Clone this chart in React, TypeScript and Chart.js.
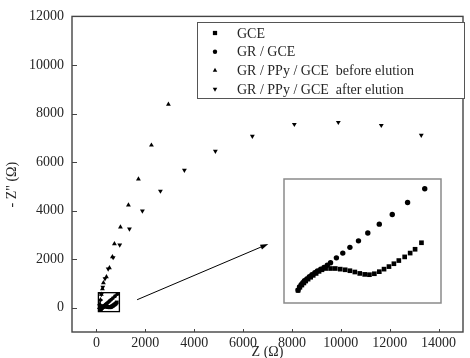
import React, { useEffect, useRef } from "react";
import { Chart, registerables } from "chart.js";
import { drawPoint } from "chart.js/helpers";

Chart.register(...registerables);

// ---------- data (Ω) ----------
const xTickValues = [0, 2000, 4000, 6000, 8000, 10000, 12000, 14000];
const yTickValues = [0, 2000, 4000, 6000, 8000, 10000, 12000];

const seriesLabels = [
  "GCE",
  "GR / GCE",
  "GR / PPy / GCE  before elution",
  "GR / PPy / GCE  after elution",
];

const gceX = [157, 167, 178, 189, 199, 212, 226, 240, 256, 272, 288, 308, 335, 361, 388, 415, 441, 468, 495, 522, 548, 575, 602, 628, 655, 682, 709, 741, 771, 798, 833];
const gceY = [-81, -61, -47, -34, -22, -10, 2, 14, 26, 39, 49, 57, 57, 57, 53, 49, 43, 35, 26, 20, 18, 24, 37, 53, 69, 87, 107, 130, 154, 178, 219];

const grX = [157, 165, 174, 183, 192, 205, 219, 233, 249, 263, 281, 299, 317, 335, 367, 402, 441, 488, 539, 602, 673, 757, 851];
const grY = [-79, -59, -45, -32, -20, -8, 6, 18, 30, 41, 53, 63, 77, 93, 124, 154, 190, 231, 280, 336, 397, 472, 559];

const beforeX = [120, 140, 165, 200, 245, 286, 409, 532, 654, 736, 982, 1309, 1718, 2250, 2945];
const beforeY = [0, 150, 330, 550, 780, 1027, 1273, 1643, 2094, 2628, 3326, 4230, 5298, 6694, 8378];

const afterX = [130, 160, 200, 260, 350, 480, 683, 953, 1350, 1881, 2618, 3599, 4867, 6380, 8098, 9898, 11656, 13292];
const afterY = [100, 300, 550, 850, 1200, 1600, 2066, 2587, 3244, 3984, 4805, 5667, 6448, 7064, 7556, 7638, 7515, 7105];

// zoom box (data units) shown enlarged in the inset, and arrow (data units)
const zoomBoxX = [80, 940];
const zoomBoxY = [-160, 620];
const arrowX = [1664, 7034];
const arrowY = [329, 2628];

const pts = (xs: number[], ys: number[]) => xs.map((x, i) => ({ x, y: ys[i] }));

const FONT = "'Liberation Serif', 'Times New Roman', serif";
const TEXT = "#262626";

const framePlugin = {
  id: "frame",
  afterDatasetsDraw(chart: any) {
    const { ctx, chartArea: a, scales } = chart;
    const xs = scales.x, ys = scales.y;
    ctx.save();
    // zoom box
    ctx.strokeStyle = "#000";
    ctx.lineWidth = 1.3;
    const bx0 = xs.getPixelForValue(zoomBoxX[0]);
    const bx1 = xs.getPixelForValue(zoomBoxX[1]);
    const by0 = ys.getPixelForValue(zoomBoxY[1]);
    const by1 = ys.getPixelForValue(zoomBoxY[0]);
    ctx.strokeRect(bx0, by0, bx1 - bx0, by1 - by0);
    // arrow
    const ax0 = xs.getPixelForValue(arrowX[0]);
    const ay0 = ys.getPixelForValue(arrowY[0]);
    const ax1 = xs.getPixelForValue(arrowX[1]);
    const ay1 = ys.getPixelForValue(arrowY[1]);
    const ang = Math.atan2(ay1 - ay0, ax1 - ax0);
    ctx.lineWidth = 1;
    ctx.beginPath();
    ctx.moveTo(ax0, ay0);
    ctx.lineTo(ax1 - 5 * Math.cos(ang), ay1 - 5 * Math.sin(ang));
    ctx.stroke();
    ctx.fillStyle = "#000";
    ctx.beginPath();
    ctx.moveTo(ax1, ay1);
    ctx.lineTo(ax1 - 8 * Math.cos(ang) + 2.6 * Math.sin(ang), ay1 - 8 * Math.sin(ang) - 2.6 * Math.cos(ang));
    ctx.lineTo(ax1 - 8 * Math.cos(ang) - 2.6 * Math.sin(ang), ay1 - 8 * Math.sin(ang) + 2.6 * Math.cos(ang));
    ctx.closePath();
    ctx.fill();
    // frame
    ctx.strokeStyle = "#444";
    ctx.lineWidth = 1.4;
    ctx.strokeRect(a.left, a.top, a.right - a.left, a.bottom - a.top);
    // inward ticks
    ctx.lineWidth = 1;
    ctx.strokeStyle = "#444";
    ctx.beginPath();
    ys.ticks.forEach((t: any) => {
      const py = Math.round(ys.getPixelForValue(t.value)) + 0.5;
      ctx.moveTo(a.left, py);
      ctx.lineTo(a.left + 5, py);
    });
    xs.ticks.forEach((t: any) => {
      const px = Math.round(xs.getPixelForValue(t.value)) + 0.5;
      ctx.moveTo(px, a.bottom);
      ctx.lineTo(px, a.bottom - 3);
    });
    ctx.stroke();
    ctx.restore();
  },
  afterDraw(chart: any) {
    const { ctx } = chart;
    ctx.save();
    const lx = 197, ly = 22, lw = 267, lh = 76;
    ctx.fillStyle = "#fff";
    ctx.fillRect(lx, ly, lw, lh);
    ctx.strokeStyle = "#555";
    ctx.lineWidth = 1;
    ctx.strokeRect(lx + 0.5, ly + 0.5, lw, lh);
    ctx.font = `14px ${FONT}`;
    ctx.textBaseline = "middle";
    ctx.textAlign = "left";
    chart.data.datasets.forEach((ds: any, i: number) => {
      const y = ly + 11 + i * 18.7;
      ctx.fillStyle = "#000";
      ctx.strokeStyle = "#000";
      ctx.lineWidth = 0;
      drawPoint(ctx, { pointStyle: ds.pointStyle, rotation: ds.pointRotation || 0, radius: ds.legendRadius, borderWidth: 0 }, lx + 18, y);
      ctx.fillStyle = TEXT;
      ctx.fillText(ds.label, lx + 40, y + 1);
    });
    ctx.restore();
  },
};

const insetFramePlugin = {
  id: "insetFrame",
  afterDraw(chart: any) {
    const { ctx, chartArea: a } = chart;
    ctx.save();
    ctx.strokeStyle = "#8a8a8a";
    ctx.lineWidth = 1.5;
    ctx.strokeRect(a.left, a.top, a.right - a.left, a.bottom - a.top);
    ctx.restore();
  },
};

export default function App() {
  const mainRef = useRef<HTMLCanvasElement>(null);
  const insetRef = useRef<HTMLCanvasElement>(null);

  useEffect(() => {
    const base = { showLine: false, backgroundColor: "#000", borderColor: "#000", borderWidth: 0, clip: false as any };
    const main = new Chart(mainRef.current!, {
      type: "scatter",
      data: {
        datasets: [
          { ...base, label: seriesLabels[0], data: pts(gceX, gceY), pointStyle: "rect", pointRadius: 2.6, legendRadius: 3 } as any,
          { ...base, label: seriesLabels[1], data: pts(grX, grY), pointStyle: "circle", pointRadius: 1.9, legendRadius: 2.2 } as any,
          { ...base, label: seriesLabels[2], data: pts(beforeX, beforeY), pointStyle: "triangle", pointRadius: 2.8, legendRadius: 2.6 } as any,
          { ...base, label: seriesLabels[3], data: pts(afterX, afterY), pointStyle: "triangle", pointRotation: 180, pointRadius: 2.8, legendRadius: 2.6 } as any,
        ],
      },
      options: {
        animation: false,
        responsive: false,
        events: [],
        layout: { padding: { top: 16, right: 7, left: 0, bottom: 0 } },
        plugins: { legend: { display: false }, tooltip: { enabled: false } },
        scales: {
          x: {
            type: "linear",
            min: -1000,
            max: 15000,
            grid: { display: false, drawTicks: false },
            border: { display: false },
            afterBuildTicks: (s: any) => { s.ticks = xTickValues.map((v) => ({ value: v })); },
            afterFit: (s: any) => { s.height = 26; },
            ticks: { padding: 3, color: TEXT, font: { family: FONT, size: 14 }, maxRotation: 0, autoSkip: false, callback: (v: any) => String(v) },
            title: { display: true, text: "Z (Ω)", color: TEXT, font: { family: FONT, size: 14 }, padding: { top: 0, bottom: -3 } },
          },
          y: {
            type: "linear",
            min: -1000,
            max: 12000,
            grid: { display: false, drawTicks: false },
            border: { display: false },
            afterBuildTicks: (s: any) => { s.ticks = yTickValues.map((v) => ({ value: v })); },
            afterFit: (s: any) => { s.width = 72; },
            ticks: { padding: 8, color: TEXT, font: { family: FONT, size: 14 }, autoSkip: false, callback: (v: any) => String(v) },
            title: { display: true, text: '- Z" (Ω)      ', color: TEXT, font: { family: FONT, size: 14 }, padding: { top: 4, bottom: 0 } },
          },
        },
      } as any,
      plugins: [framePlugin],
    });

    const inset = new Chart(insetRef.current!, {
      type: "scatter",
      data: {
        datasets: [
          { ...base, label: seriesLabels[0], data: pts(gceX, gceY), pointStyle: "rect", pointRadius: 3.3 } as any,
          { ...base, label: seriesLabels[1], data: pts(grX, grY), pointStyle: "circle", pointRadius: 2.7 } as any,
        ],
      },
      options: {
        animation: false,
        responsive: false,
        events: [],
        layout: { padding: 2 },
        plugins: { legend: { display: false }, tooltip: { enabled: false } },
        scales: {
          x: { type: "linear", min: zoomBoxX[0], max: zoomBoxX[1], display: false },
          y: { type: "linear", min: zoomBoxY[0], max: zoomBoxY[1], display: false },
        },
      } as any,
      plugins: [insetFramePlugin],
    });

    return () => {
      main.destroy();
      inset.destroy();
    };
  }, []);

  return (
    <div style={{ position: "fixed", left: 0, top: 0, width: 470, height: 358, background: "#fff" }}>
      <canvas ref={mainRef} width={470} height={358} style={{ position: "absolute", left: 0, top: 0 }} />
      <canvas ref={insetRef} width={165} height={132} style={{ position: "absolute", left: 280, top: 175 }} />
    </div>
  );
}
